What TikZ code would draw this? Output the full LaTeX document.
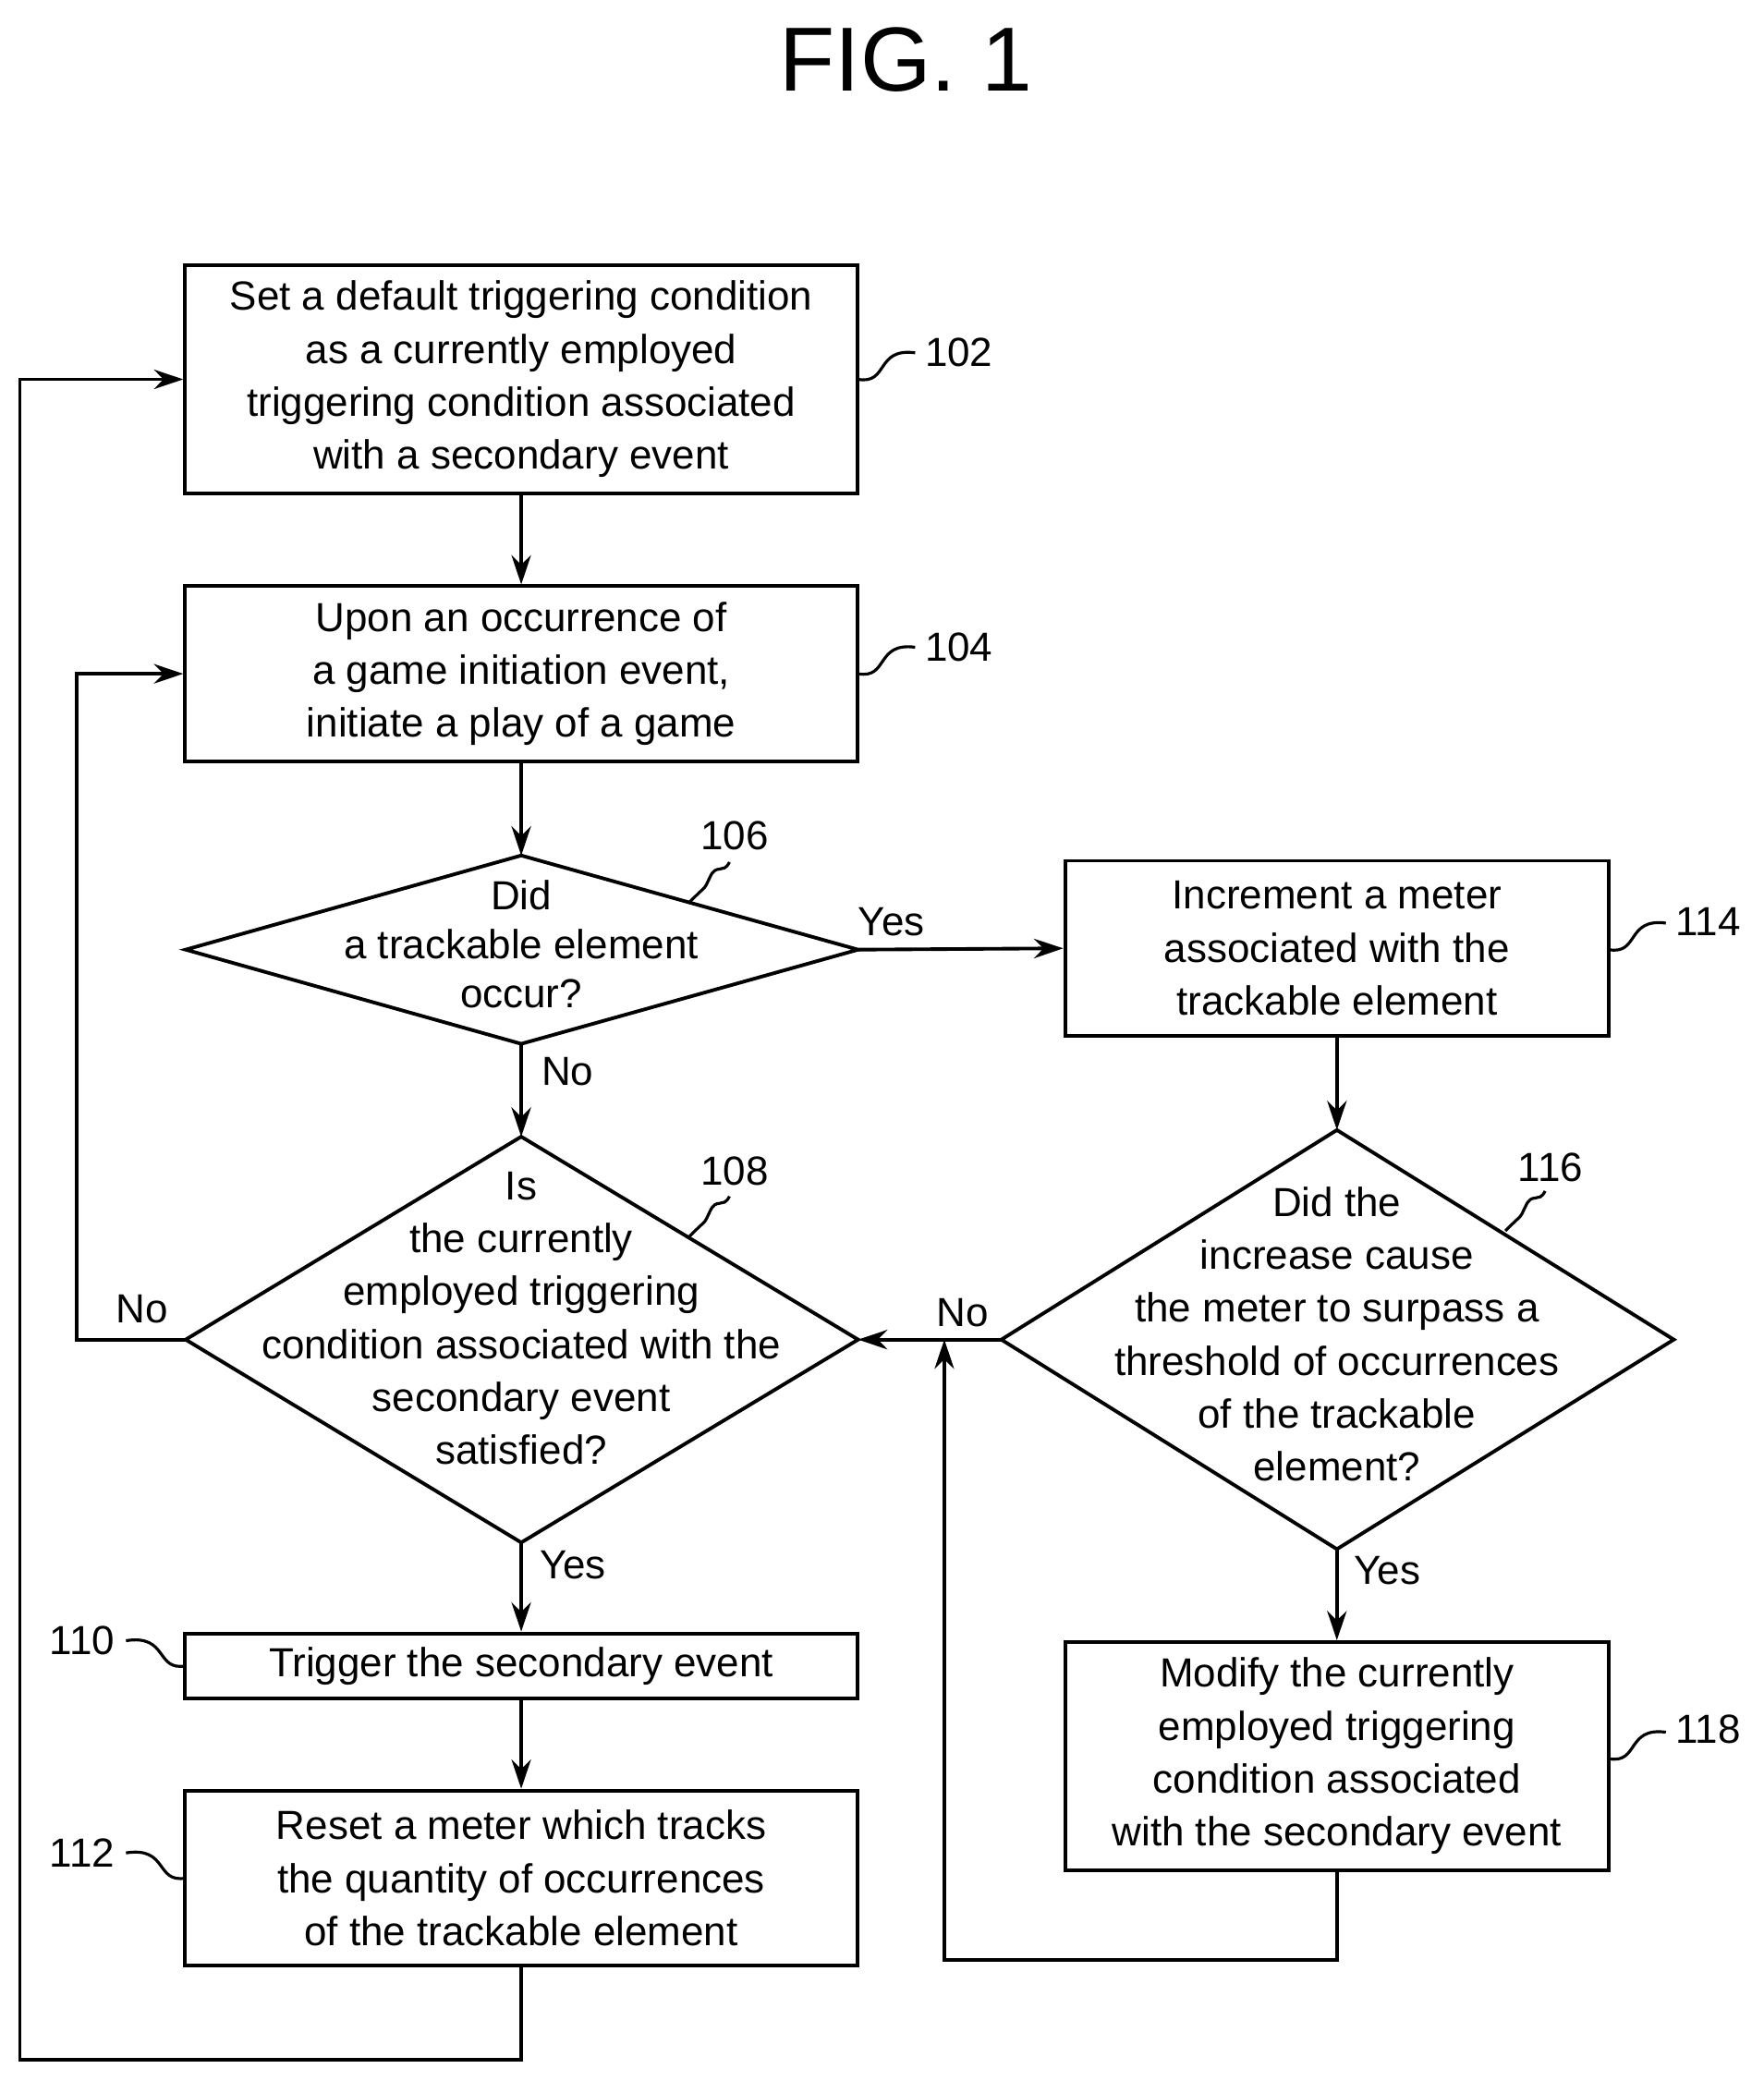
\documentclass[tikz,border=0pt]{standalone}
\usepackage{fontspec}
\setmainfont{Liberation Sans}
\usetikzlibrary{shapes.geometric,arrows.meta}
\begin{document}
\begin{tikzpicture}[x=0.01435cm,y=-0.01435cm,line width=1.1pt,
 box/.style={draw,rectangle,minimum width=507*0.01435cm,align=center,font=\fontsize{12.5}{16.3}\selectfont,inner sep=0pt},
 box2/.style={box,minimum width=410*0.01435cm},
 lab/.style={font=\fontsize{12.5}{15}\selectfont},
 arr/.style={-{Stealth[length=9pt,width=6pt]}},
 sq/.style={line width=0.9pt}]
\useasboundingbox (0,0) rectangle (1330,1569);
\node[font=\fontsize{28}{30}\selectfont] (title) at (683,45) {FIG. 1};
\node[box,minimum height=172*0.01435cm] (b102) at (393,286) {Set a default triggering condition\\as a currently employed\\triggering condition associated\\with a secondary event};
\node[box,minimum height=132*0.01435cm] (b104) at (393,508) {Upon an occurrence of\\a game initiation event,\\initiate a play of a game};
\coordinate (d106l) at (140,716); \coordinate (d106r) at (647,716);
\coordinate (d106t) at (393,645); \coordinate (d106b) at (393,787);
\draw (d106l)--(d106t)--(d106r)--(d106b)--cycle;
\node[lab,align=center] (t106) at (393,712) {Did\\a trackable element\\occur?};
\coordinate (d108l) at (140,1010); \coordinate (d108r) at (647,1010);
\coordinate (d108t) at (393,857); \coordinate (d108b) at (393,1163);
\draw (d108l)--(d108t)--(d108r)--(d108b)--cycle;
\node[lab,align=center,font=\fontsize{12.5}{16.3}\selectfont] (t108) at (393,994) {Is\\the currently\\employed triggering\\condition associated with the\\secondary event\\satisfied?};
\node[box,minimum height=49*0.01435cm] (b110) at (393,1256) {Trigger the secondary event};
\node[box,minimum height=132*0.01435cm] (b112) at (393,1416) {Reset a meter which tracks\\the quantity of occurrences\\of the trackable element};
\node[box2,minimum height=132*0.01435cm] (b114) at (1008,715) {Increment a meter\\associated with the\\trackable element};
\coordinate (d116l) at (755,1010); \coordinate (d116r) at (1262,1010);
\coordinate (d116t) at (1008,852); \coordinate (d116b) at (1008,1168);
\draw (d116l)--(d116t)--(d116r)--(d116b)--cycle;
\node[lab,align=center,font=\fontsize{12.5}{16.3}\selectfont] (t116) at (1008,1006) {Did the\\increase cause\\the meter to surpass a\\threshold of occurrences\\of the trackable\\element?};
\node[box2,minimum height=172*0.01435cm] (b118) at (1008,1324) {Modify the currently\\employed triggering\\condition associated\\with the secondary event};
% connectors
\draw[arr] (b102) -- (b104);
\draw[arr] (b104) -- (d106t);
\draw[arr] (d106r) -- (b114.west);
\draw[arr] (d106b) -- (d108t);
\draw[arr] (d108b) -- (b110);
\draw[arr] (b110) -- (b112);
\draw[arr] (b114) -- (d116t);
\draw[arr] (d116b) -- (b118);
\draw[arr] (d116l) -- (d108r);
\coordinate (c1) at (393,1553); \coordinate (c2) at (15,1553); \coordinate (c3) at (15,286);
\draw[arr] (b112.south) -- (c1) -- (c2) -- (c3) -- (b102.west);
\coordinate (c4) at (58,1010); \coordinate (c5) at (58,508);
\draw[arr] (d108l) -- (c4) -- (c5) -- (b104.west);
\coordinate (c6) at (1008,1478); \coordinate (c7) at (712,1478); \coordinate (c8) at (712,1010);
\draw[arr] (b118.south) -- (c6) -- (c7) -- (c8);
% labels
\node[lab] (l1) at (107,987) {No};
\node[lab] (l2) at (672,695) {Yes};
\node[lab] (l3) at (428,808) {No};
\node[lab] (l4) at (432,1180) {Yes};
\node[lab] (l5) at (726,990) {No};
\node[lab] (l6) at (1046,1184) {Yes};
% reference numerals
\node[lab] (n102) at (723,266) {102};
\node[lab] (n104) at (723,488) {104};
\node[lab] (n106) at (554,630) {106};
\node[lab] (n108) at (554,883) {108};
\node[lab] (n116) at (1169,880) {116};
\node[lab] (n114) at (1288,695) {114};
\node[lab] (n118) at (1288,1304) {118};
\node[lab] (n110) at (62,1237) {110};
\node[lab] (n112) at (62,1397) {112};
\draw[sq] (647,286) .. controls (670,290) and (660,262) .. (690,266);
\draw[sq] (647,508) .. controls (670,512) and (660,484) .. (690,488);
\draw[sq] (1213,716) .. controls (1236,720) and (1226,692) .. (1256,696);
\draw[sq] (1213,1326) .. controls (1236,1330) and (1226,1302) .. (1256,1306);
\draw[sq] (140,1256) .. controls (117,1260) and (127,1232) .. (95,1237);
\draw[sq] (140,1416) .. controls (117,1420) and (127,1392) .. (95,1397);
\draw[sq] (520,680) .. controls (535,665) and (530,672) .. (535,662) .. controls (540,650) and (545,660) .. (550,650);
\draw[sq] (520,932) .. controls (535,917) and (530,924) .. (535,914) .. controls (540,902) and (545,912) .. (550,902);
\draw[sq] (1135,928) .. controls (1150,913) and (1145,920) .. (1150,910) .. controls (1155,898) and (1160,908) .. (1165,898);
\end{tikzpicture}
\end{document}
